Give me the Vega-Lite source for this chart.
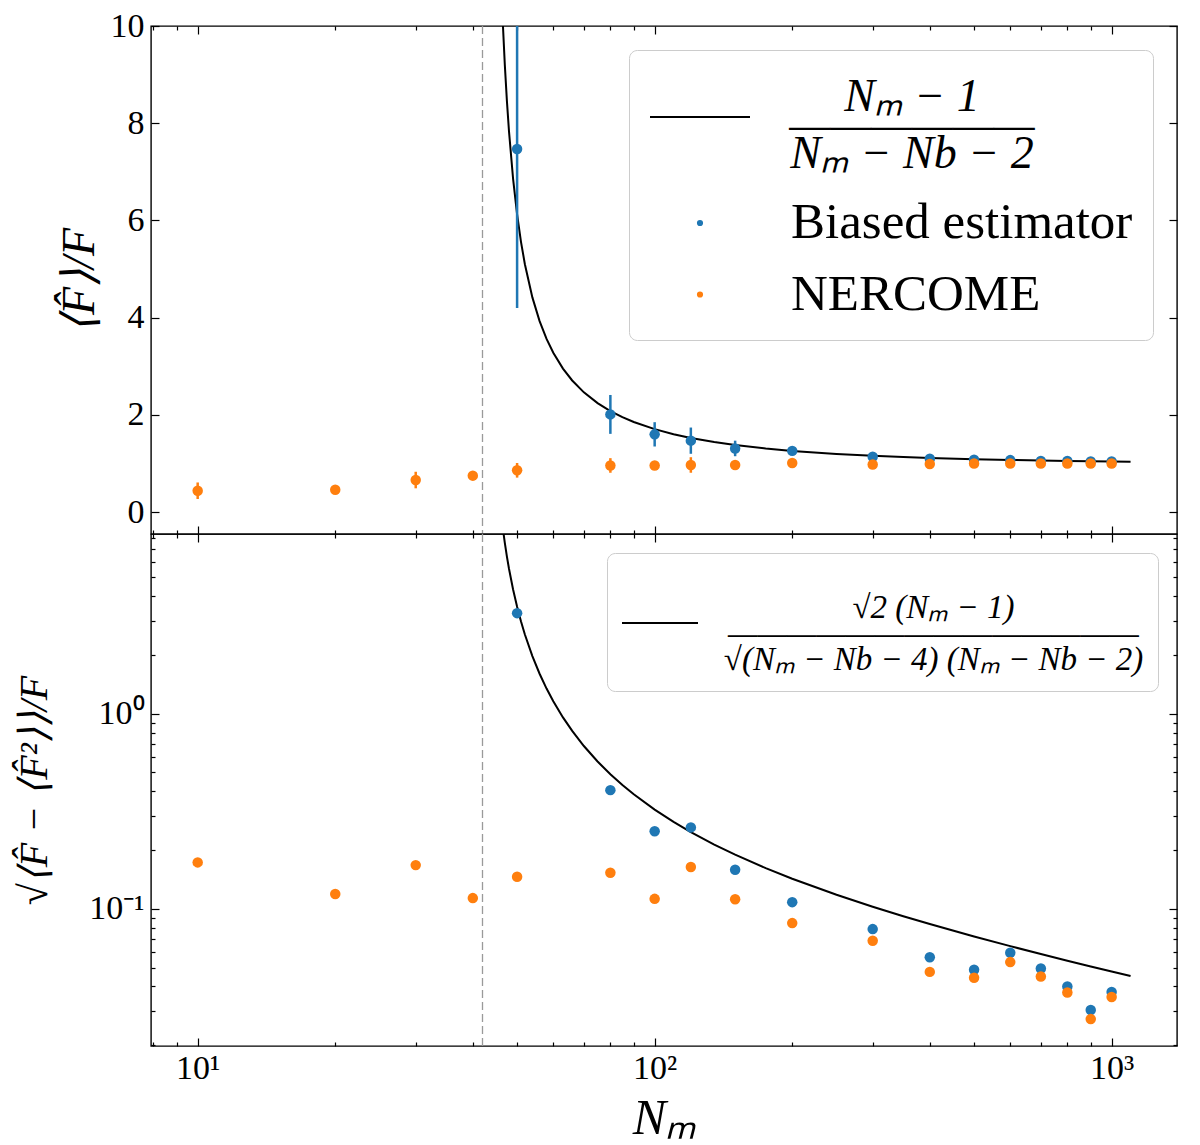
{
  "$schema": "https://vega.github.io/schema/vega-lite/v6.json",
  "background": "white",
  "padding": {"left": 13, "top": 8, "right": 24, "bottom": 0},
  "config": {
    "view": {"stroke": "black", "strokeWidth": 1.4},
    "axis": {"grid": false, "domain": false, "labelFont": "Liberation Serif", "labelFontSize": 34, "labelColor": "black", "tickColor": "black", "tickWidth": 1.2, "titleFont": "Liberation Serif", "titleColor": "black", "titleFontWeight": "normal", "labelOverlap": false, "labelFlush": false},
    "legend": {"labelFont": "Liberation Serif", "labelColor": "black"}
  },
  "datasets": {
    "vline": [{"N": 42}],
    "curve": [
      {"N": 45, "top": 14.667, "bot": 20.74, "series": "curve"},
      {"N": 45.5, "top": 12.714, "bot": 14.68, "series": "curve"},
      {"N": 46, "top": 11.25, "bot": 11.25, "series": "curve"},
      {"N": 46.5, "top": 10.111, "bot": 9.044, "series": "curve"},
      {"N": 47, "top": 9.2, "bot": 7.512, "series": "curve"},
      {"N": 47.5, "top": 8.4545, "bot": 6.391, "series": "curve"},
      {"N": 48, "top": 7.833, "bot": 5.539, "series": "curve"},
      {"N": 49, "top": 6.857, "bot": 4.337, "series": "curve"},
      {"N": 50, "top": 6.125, "bot": 3.536, "series": "curve"},
      {"N": 51, "top": 5.5556, "bot": 2.9695, "series": "curve"},
      {"N": 52, "top": 5.1, "bot": 2.55, "series": "curve"},
      {"N": 54, "top": 4.417, "bot": 1.975, "series": "curve"},
      {"N": 56, "top": 3.929, "bot": 1.604, "series": "curve"},
      {"N": 58, "top": 3.5625, "bot": 1.3465, "series": "curve"},
      {"N": 60, "top": 3.278, "bot": 1.1589, "series": "curve"},
      {"N": 63, "top": 2.952, "bot": 0.9579, "series": "curve"},
      {"N": 66, "top": 2.708, "bot": 0.8166, "series": "curve"},
      {"N": 70, "top": 2.464, "bot": 0.6835, "series": "curve"},
      {"N": 75, "top": 2.242, "bot": 0.5696, "series": "curve"},
      {"N": 80, "top": 2.079, "bot": 0.49, "series": "curve"},
      {"N": 85, "top": 1.953, "bot": 0.4315, "series": "curve"},
      {"N": 90, "top": 1.854, "bot": 0.3866, "series": "curve"},
      {"N": 100, "top": 1.707, "bot": 0.3226, "series": "curve"},
      {"N": 110, "top": 1.603, "bot": 0.279, "series": "curve"},
      {"N": 120, "top": 1.526, "bot": 0.2475, "series": "curve"},
      {"N": 135, "top": 1.441, "bot": 0.2136, "series": "curve"},
      {"N": 150, "top": 1.38, "bot": 0.1895, "series": "curve"},
      {"N": 175, "top": 1.308, "bot": 0.1617, "series": "curve"},
      {"N": 200, "top": 1.259, "bot": 0.1426, "series": "curve"},
      {"N": 250, "top": 1.197, "bot": 0.118, "series": "curve"},
      {"N": 300, "top": 1.159, "bot": 0.10244, "series": "curve"},
      {"N": 350, "top": 1.133, "bot": 0.09161, "series": "curve"},
      {"N": 400, "top": 1.115, "bot": 0.08354, "series": "curve"},
      {"N": 500, "top": 1.0895, "bot": 0.07216, "series": "curve"},
      {"N": 600, "top": 1.0735, "bot": 0.06438, "series": "curve"},
      {"N": 700, "top": 1.0623, "bot": 0.05866, "series": "curve"},
      {"N": 800, "top": 1.0541, "bot": 0.05422, "series": "curve"},
      {"N": 900, "top": 1.0478, "bot": 0.05065, "series": "curve"},
      {"N": 1000, "top": 1.0428, "bot": 0.0477, "series": "curve"},
      {"N": 1100, "top": 1.0388, "bot": 0.04521, "series": "curve"}
    ],
    "topPts": [
      {"N": 50, "v": 7.47, "lo": 4.2, "hi": 10.74, "series": "Biased estimator"},
      {"N": 80, "v": 2.01, "lo": 1.61, "hi": 2.41, "series": "Biased estimator"},
      {"N": 100, "v": 1.6, "lo": 1.35, "hi": 1.85, "series": "Biased estimator"},
      {"N": 120, "v": 1.47, "lo": 1.2, "hi": 1.74, "series": "Biased estimator"},
      {"N": 150, "v": 1.31, "lo": 1.15, "hi": 1.47, "series": "Biased estimator"},
      {"N": 200, "v": 1.26, "lo": 1.2, "hi": 1.32, "series": "Biased estimator"},
      {"N": 300, "v": 1.14, "lo": 1.1, "hi": 1.18, "series": "Biased estimator"},
      {"N": 400, "v": 1.1, "lo": 1.07, "hi": 1.13, "series": "Biased estimator"},
      {"N": 500, "v": 1.08, "lo": 1.05, "hi": 1.11, "series": "Biased estimator"},
      {"N": 600, "v": 1.07, "lo": 1.05, "hi": 1.09, "series": "Biased estimator"},
      {"N": 700, "v": 1.05, "lo": 1.03, "hi": 1.07, "series": "Biased estimator"},
      {"N": 800, "v": 1.05, "lo": 1.03, "hi": 1.07, "series": "Biased estimator"},
      {"N": 900, "v": 1.04, "lo": 1.02, "hi": 1.06, "series": "Biased estimator"},
      {"N": 1000, "v": 1.04, "lo": 1.02, "hi": 1.06, "series": "Biased estimator"},
      {"N": 10, "v": 0.44, "lo": 0.27, "hi": 0.61, "series": "NERCOME"},
      {"N": 20, "v": 0.46, "lo": 0.4, "hi": 0.52, "series": "NERCOME"},
      {"N": 30, "v": 0.66, "lo": 0.49, "hi": 0.83, "series": "NERCOME"},
      {"N": 40, "v": 0.75, "lo": 0.68, "hi": 0.82, "series": "NERCOME"},
      {"N": 50, "v": 0.86, "lo": 0.71, "hi": 1.01, "series": "NERCOME"},
      {"N": 80, "v": 0.96, "lo": 0.81, "hi": 1.11, "series": "NERCOME"},
      {"N": 100, "v": 0.96, "lo": 0.9, "hi": 1.02, "series": "NERCOME"},
      {"N": 120, "v": 0.97, "lo": 0.81, "hi": 1.13, "series": "NERCOME"},
      {"N": 150, "v": 0.97, "lo": 0.9, "hi": 1.04, "series": "NERCOME"},
      {"N": 200, "v": 1.01, "lo": 0.96, "hi": 1.06, "series": "NERCOME"},
      {"N": 300, "v": 0.98, "lo": 0.94, "hi": 1.02, "series": "NERCOME"},
      {"N": 400, "v": 0.99, "lo": 0.96, "hi": 1.02, "series": "NERCOME"},
      {"N": 500, "v": 1.0, "lo": 0.97, "hi": 1.03, "series": "NERCOME"},
      {"N": 600, "v": 1.0, "lo": 0.98, "hi": 1.02, "series": "NERCOME"},
      {"N": 700, "v": 1.0, "lo": 0.98, "hi": 1.02, "series": "NERCOME"},
      {"N": 800, "v": 1.0, "lo": 0.98, "hi": 1.02, "series": "NERCOME"},
      {"N": 900, "v": 1.0, "lo": 0.98, "hi": 1.02, "series": "NERCOME"},
      {"N": 1000, "v": 1.0, "lo": 0.98, "hi": 1.02, "series": "NERCOME"}
    ],
    "botPts": [
      {"N": 50, "s": 3.28, "series": "Biased estimator"},
      {"N": 80, "s": 0.406, "series": "Biased estimator"},
      {"N": 100, "s": 0.25, "series": "Biased estimator"},
      {"N": 120, "s": 0.2615, "series": "Biased estimator"},
      {"N": 150, "s": 0.1585, "series": "Biased estimator"},
      {"N": 200, "s": 0.1082, "series": "Biased estimator"},
      {"N": 300, "s": 0.0787, "series": "Biased estimator"},
      {"N": 400, "s": 0.0565, "series": "Biased estimator"},
      {"N": 500, "s": 0.0487, "series": "Biased estimator"},
      {"N": 600, "s": 0.0595, "series": "Biased estimator"},
      {"N": 700, "s": 0.0494, "series": "Biased estimator"},
      {"N": 800, "s": 0.04, "series": "Biased estimator"},
      {"N": 900, "s": 0.0303, "series": "Biased estimator"},
      {"N": 1000, "s": 0.0375, "series": "Biased estimator"},
      {"N": 10, "s": 0.173, "series": "NERCOME"},
      {"N": 20, "s": 0.119, "series": "NERCOME"},
      {"N": 30, "s": 0.1675, "series": "NERCOME"},
      {"N": 40, "s": 0.1135, "series": "NERCOME"},
      {"N": 50, "s": 0.146, "series": "NERCOME"},
      {"N": 80, "s": 0.153, "series": "NERCOME"},
      {"N": 100, "s": 0.1125, "series": "NERCOME"},
      {"N": 120, "s": 0.1637, "series": "NERCOME"},
      {"N": 150, "s": 0.112, "series": "NERCOME"},
      {"N": 200, "s": 0.0845, "series": "NERCOME"},
      {"N": 300, "s": 0.0686, "series": "NERCOME"},
      {"N": 400, "s": 0.0475, "series": "NERCOME"},
      {"N": 500, "s": 0.0443, "series": "NERCOME"},
      {"N": 600, "s": 0.0533, "series": "NERCOME"},
      {"N": 700, "s": 0.045, "series": "NERCOME"},
      {"N": 800, "s": 0.0372, "series": "NERCOME"},
      {"N": 900, "s": 0.0272, "series": "NERCOME"},
      {"N": 1000, "s": 0.0353, "series": "NERCOME"}
    ]
  },
  "spacing": 0,
  "bounds": "flush",
  "resolve": {"scale": {"color": "independent"}, "legend": {"color": "independent"}},
  "vconcat": [
    {
      "width": 1026,
      "height": 508,
      "resolve": {"axis": {"x": "independent", "y": "independent"}},
      "layer": [
        {
          "mark": {"type": "rule", "color": "#9a9a9a", "strokeDash": [8, 4], "strokeWidth": 1.3},
          "encoding": {"y": {"datum": 1, "type": "quantitative", "scale": {"domain": [-0.45, 10], "nice": false, "zero": false}, "axis": null}}
        },
        {
          "data": {"name": "vline"},
          "mark": {"type": "rule", "color": "#9a9a9a", "strokeDash": [8, 4], "strokeWidth": 1.3},
          "encoding": {"x": {"field": "N", "type": "quantitative", "scale": {"type": "log", "domain": [7.904, 1390], "nice": false}, "axis": null}}
        },
        {
          "data": {"name": "curve"},
          "mark": {"type": "line", "strokeWidth": 2, "clip": true},
          "encoding": {
            "x": {"field": "N", "type": "quantitative", "scale": {"type": "log", "domain": [7.904, 1390], "nice": false},
                  "axis": {"orient": "top", "values": [8,9,10,20,30,40,50,60,70,80,90,100,200,300,400,500,600,700,800,900,1000], "labels": false, "title": null,
                           "tickSize": {"condition": {"test": "datum.value === 10 || datum.value === 100 || datum.value === 1000", "value": -8}, "value": -4}}},
            "y": {"field": "top", "type": "quantitative", "scale": {"domain": [-0.45, 10], "nice": false, "zero": false},
                  "axis": {"orient": "right", "values": [0,2,4,6,8,10], "labels": false, "title": null, "tickSize": -8}},
            "color": {"field": "series", "type": "nominal",
              "scale": {"domain": ["curve", "Biased estimator", "NERCOME"], "range": ["black", "#1f77b4", "#ff7f0e"]},
              "legend": {
                "title": null, "orient": "top-right", "offset": 24, "padding": 20,
                "strokeColor": "#cccccc", "fillColor": "rgba(255,255,255,0.8)", "cornerRadius": 8,
                "labelFont": "Liberation Serif", "labelFontSize": 51, "labelLimit": 0, "labelColor": "black",
                "labelOffset": 91, "rowPadding": 19.5,
                "labelExpr": "datum.value === 'curve' ? ['Nₘ − 1', '——————', 'Nₘ − Nb − 2'] : datum.label",
                "encode": {
                  "symbols": {"update": {
                    "shape": {"signal": "(datum.value === 'curve' ? 'M-1,0H1' : 'circle')"},
                    "size": {"signal": "(datum.value === 'curve' ? 10000 : 38)"},
                    "strokeWidth": {"signal": "(datum.value === 'curve' ? 2 : 0)"},
                    "stroke": {"signal": "(datum.value === 'curve' ? 'black' : 'transparent')"},
                    "fill": {"signal": "(datum.value === 'curve' ? 'transparent' : (datum.value === 'NERCOME' ? '#ff7f0e' : '#1f77b4'))"},
                    "x": {"value": 51},
                    "y": {"signal": "datum.size * 0.5 + (datum.value === 'curve' ? 21.5 : 0)"},
                    "opacity": {"value": 1}
                  }},
                  "labels": {"update": {
                    "align": {"signal": "(datum.value === 'curve' ? 'center' : 'left')"},
                    "baseline": {"signal": "(datum.value === 'curve' ? 'top' : 'middle')"},
                    "dx": {"signal": "(datum.value === 'curve' ? 121 : 0)"},
                    "dy": {"signal": "(datum.value === 'curve' ? -20.5 : 0)"},
                    "fontSize": {"signal": "(datum.value === 'curve' ? 46 : 51)"},
                    "lineHeight": {"value": 28.5},
                    "fontStyle": {"signal": "(datum.value === 'curve' ? 'italic' : 'normal')"}
                  }}
                }
              }
            }
          }
        },
        {
          "data": {"name": "topPts"},
          "mark": {"type": "rule", "strokeWidth": 2.5, "clip": true},
          "encoding": {
            "x": {"field": "N", "type": "quantitative", "scale": {"type": "log", "domain": [7.904, 1390], "nice": false}, "axis": null},
            "y": {"field": "lo", "type": "quantitative", "scale": {"domain": [-0.45, 10], "nice": false, "zero": false}, "axis": null},
            "y2": {"field": "hi"},
            "color": {"field": "series", "type": "nominal", "scale": {"domain": ["curve", "Biased estimator", "NERCOME"], "range": ["black", "#1f77b4", "#ff7f0e"]}}
          }
        },
        {
          "data": {"name": "topPts"},
          "mark": {"type": "circle", "size": 110, "opacity": 1},
          "encoding": {
            "x": {"field": "N", "type": "quantitative", "scale": {"type": "log", "domain": [7.904, 1390], "nice": false},
                  "axis": {"orient": "bottom", "values": [8,9,10,20,30,40,50,60,70,80,90,100,200,300,400,500,600,700,800,900,1000], "labels": false, "title": null,
                           "tickSize": {"condition": {"test": "datum.value === 10 || datum.value === 100 || datum.value === 1000", "value": -8}, "value": -4}}},
            "y": {"field": "v", "type": "quantitative", "scale": {"domain": [-0.45, 10], "nice": false, "zero": false},
                  "axis": {"orient": "left", "values": [0,2,4,6,8,10], "tickSize": -8, "labelPadding": 15,
                           "title": "⟨F̂⟩/F", "titleFontSize": 46, "titleFontStyle": "italic", "titleX": -72, "titleBaseline": "middle", "titleAngle": -90}},
            "color": {"field": "series", "type": "nominal", "scale": {"domain": ["curve", "Biased estimator", "NERCOME"], "range": ["black", "#1f77b4", "#ff7f0e"]}}
          }
        }
      ]
    },
    {
      "width": 1026,
      "height": 512,
      "resolve": {"axis": {"x": "independent", "y": "independent"}},
      "layer": [
        {
          "data": {"name": "vline"},
          "mark": {"type": "rule", "color": "#9a9a9a", "strokeDash": [8, 4], "strokeWidth": 1.3},
          "encoding": {"x": {"field": "N", "type": "quantitative", "scale": {"type": "log", "domain": [7.904, 1390], "nice": false}, "axis": null}}
        },
        {
          "data": {"name": "curve"},
          "mark": {"type": "line", "strokeWidth": 2, "clip": true},
          "encoding": {
            "x": {"field": "N", "type": "quantitative", "scale": {"type": "log", "domain": [7.904, 1390], "nice": false},
                  "axis": {"orient": "top", "values": [8,9,10,20,30,40,50,60,70,80,90,100,200,300,400,500,600,700,800,900,1000], "labels": false, "title": null,
                           "tickSize": {"condition": {"test": "datum.value === 10 || datum.value === 100 || datum.value === 1000", "value": -8}, "value": -4}}},
            "y": {"field": "bot", "type": "quantitative", "scale": {"type": "log", "domain": [0.0198, 8.35], "nice": false},
                  "axis": {"orient": "right", "values": [0.02,0.03,0.04,0.05,0.06,0.07,0.08,0.09,0.1,0.2,0.3,0.4,0.5,0.6,0.7,0.8,0.9,1,2,3,4,5,6,7,8], "labels": false, "title": null,
                           "tickSize": {"condition": {"test": "datum.value === 0.1 || datum.value === 1", "value": -8}, "value": -4}}},
            "color": {"field": "series", "type": "nominal",
              "scale": {"domain": ["curve", "Biased estimator", "NERCOME"], "range": ["black", "#1f77b4", "#ff7f0e"]},
              "legend": {
                "values": ["curve"],
                "title": null, "orient": "top-right", "offset": 19, "padding": 14,
                "strokeColor": "#cccccc", "fillColor": "rgba(255,255,255,0.8)", "cornerRadius": 8,
                "labelFont": "Liberation Serif", "labelFontSize": 33, "labelLimit": 0, "labelColor": "black",
                "labelOffset": 28,
                "labelExpr": "['√2 (Nₘ − 1)', '——————————————', '√(Nₘ − Nb − 4) (Nₘ − Nb − 2)']",
                "encode": {
                  "symbols": {"update": {
                    "shape": {"value": "M-1,0H1"},
                    "size": {"value": 5776},
                    "strokeWidth": {"value": 2},
                    "stroke": {"value": "black"},
                    "fill": {"value": "transparent"},
                    "y": {"signal": "datum.size * 0.5 + 17"},
                    "opacity": {"value": 1}
                  }},
                  "labels": {"update": {
                    "align": {"value": "center"},
                    "baseline": {"value": "top"},
                    "dx": {"value": 206.5},
                    "dy": {"value": -14},
                    "lineHeight": {"value": 26},
                    "fontStyle": {"value": "italic"}
                  }}
                }
              }
            }
          }
        },
        {
          "data": {"name": "botPts"},
          "mark": {"type": "circle", "size": 110, "opacity": 1},
          "encoding": {
            "x": {"field": "N", "type": "quantitative", "scale": {"type": "log", "domain": [7.904, 1390], "nice": false},
                  "axis": {"orient": "bottom", "values": [8,9,10,20,30,40,50,60,70,80,90,100,200,300,400,500,600,700,800,900,1000],
                           "tickSize": {"condition": {"test": "datum.value === 10 || datum.value === 100 || datum.value === 1000", "value": -8}, "value": -4},
                           "labelPadding": 13,
                           "labelFontSize": {"condition": {"test": "datum.value === 10 || datum.value === 100 || datum.value === 1000", "value": 34}, "value": 0},
                           "labelExpr": "datum.value === 10 ? '10¹' : datum.value === 100 ? '10²' : datum.value === 1000 ? '10³' : ''",
                           "title": "Nₘ", "titleFontSize": 50, "titleFontStyle": "italic", "titleY": 72, "titleBaseline": "middle"}},
            "y": {"field": "s", "type": "quantitative", "scale": {"type": "log", "domain": [0.0198, 8.35], "nice": false},
                  "axis": {"orient": "left", "values": [0.02,0.03,0.04,0.05,0.06,0.07,0.08,0.09,0.1,0.2,0.3,0.4,0.5,0.6,0.7,0.8,0.9,1,2,3,4,5,6,7,8],
                           "tickSize": {"condition": {"test": "datum.value === 0.1 || datum.value === 1", "value": -8}, "value": -4},
                           "labelPadding": 15,
                           "labelFontSize": {"condition": {"test": "datum.value === 0.1 || datum.value === 1", "value": 34}, "value": 0},
                           "labelExpr": "datum.value === 1 ? '10⁰' : datum.value === 0.1 ? '10⁻¹' : ''",
                           "title": "√⟨F̂ − ⟨F̂²⟩⟩/F", "titleFontSize": 40, "titleFontStyle": "italic", "titleX": -117, "titleBaseline": "middle", "titleAngle": -90}},
            "color": {"field": "series", "type": "nominal", "scale": {"domain": ["curve", "Biased estimator", "NERCOME"], "range": ["black", "#1f77b4", "#ff7f0e"]}}
          }
        }
      ]
    }
  ]
}
